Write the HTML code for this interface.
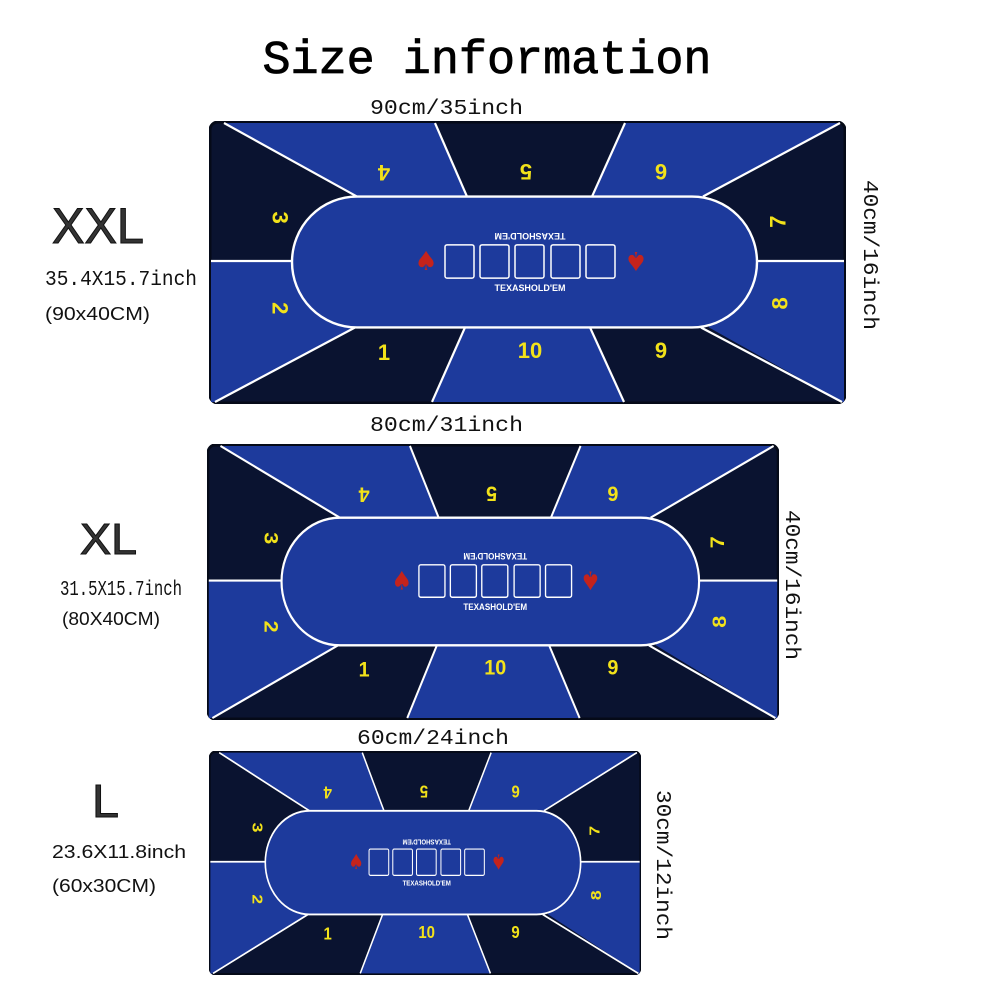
<!DOCTYPE html>
<html><head><meta charset="utf-8"><style>
html,body{margin:0;padding:0;background:#fff;width:1000px;height:1000px;overflow:hidden}
svg{display:block}
.num{font-family:"Liberation Sans",sans-serif;font-weight:bold;font-size:22px;fill:#f2e21a;text-anchor:middle;dominant-baseline:central}
.th{font-family:"Liberation Sans",sans-serif;font-weight:bold;font-size:9px;fill:#fff;text-anchor:middle}
.lab{font-family:"Liberation Mono",monospace;font-size:21px;fill:#111}
.sz{font-family:"Liberation Sans",sans-serif;fill:#333;stroke:#111;stroke-width:1}
.dim{font-family:"Liberation Sans",sans-serif;font-size:18px;fill:#111}
</style></head><body>
<svg width="1000" height="1000" viewBox="0 0 1000 1000" xmlns="http://www.w3.org/2000/svg">
<defs>
<symbol id="mat" viewBox="0 0 637 281" preserveAspectRatio="none">
  <rect x="1" y="1" width="635" height="279" rx="8" fill="#0a1330" stroke="#050a18" stroke-width="3"/>
  <g fill="#1d3a9c">
    <polygon points="15,2 226,2 258,75 148,75"/>
    <polygon points="416,2 631,2 494,75 383,75"/>
    <polygon points="635,139 500,139 500,205 633,279 635,279"/>
    <polygon points="2,139 140,139 146,205 6,279 2,279"/>
    <polygon points="256,205 381,205 415,279 223,279"/>
  </g>
  <g stroke="#fff" stroke-width="2.2" fill="none">
    <line x1="15" y1="2" x2="148" y2="75"/>
    <line x1="226" y1="2" x2="258" y2="75"/>
    <line x1="416" y1="2" x2="383" y2="75"/>
    <line x1="631" y1="2" x2="494" y2="75"/>
    <line x1="6" y1="279" x2="146" y2="205"/>
    <line x1="223" y1="279" x2="256" y2="205"/>
    <line x1="415" y1="279" x2="381" y2="205"/>
    <line x1="633" y1="279" x2="492" y2="205"/>
    <line x1="2" y1="139" x2="83" y2="139"/>
    <line x1="548" y1="139" x2="635" y2="139"/>
  </g>
  <rect x="83" y="75" width="465" height="130" rx="65" fill="#1d3a9c" stroke="#fff" stroke-width="2.4"/>
  <g fill="none" stroke="#fff" stroke-width="1.5">
    <rect x="236" y="123" width="29" height="33" rx="2"/>
    <rect x="271" y="123" width="29" height="33" rx="2"/>
    <rect x="306" y="123" width="29" height="33" rx="2"/>
    <rect x="342" y="123" width="29" height="33" rx="2"/>
    <rect x="377" y="123" width="29" height="33" rx="2"/>
  </g>
  <text class="th" x="321" y="169">TEXASHOLD'EM</text>
  <text class="th" x="321" y="169" transform="rotate(180 321 140)">TEXASHOLD'EM</text>
  <text x="217" y="148" font-size="26" fill="#c4231c" text-anchor="middle" font-family="DejaVu Sans,sans-serif">♠</text>
  <text x="427" y="148" font-size="26" fill="#c4231c" text-anchor="middle" font-family="DejaVu Sans,sans-serif" transform="rotate(180 427 139)">♠</text>
  <text class="num" x="71" y="96" transform="rotate(90 71 96)">3</text>
  <text class="num" x="71" y="186" transform="rotate(90 71 186)">2</text>
  <text class="num" x="175" y="51" transform="rotate(180 175 51)">4</text>
  <text class="num" x="317" y="50" transform="rotate(180 317 50)">5</text>
  <text class="num" x="452" y="50" transform="rotate(180 452 50)">6</text>
  <text class="num" x="569" y="100" transform="rotate(-90 569 100)">7</text>
  <text class="num" x="571" y="181" transform="rotate(-90 571 181)">8</text>
  <text class="num" x="175" y="230">1</text>
  <text class="num" x="321" y="228">10</text>
  <text class="num" x="452" y="228">9</text>
</symbol>
</defs>

<text x="487" y="73" text-anchor="middle" font-family="Liberation Mono,monospace" font-size="47" fill="#000" textLength="449" lengthAdjust="spacingAndGlyphs" stroke="#000" stroke-width="0.8">Size information</text>

<text class="lab" x="370" y="114" textLength="153" lengthAdjust="spacingAndGlyphs">90cm/35inch</text>
<use href="#mat" x="209" y="121" width="637" height="283"/>
<text class="lab" x="0" y="0" transform="translate(864,180) rotate(90)" textLength="150" lengthAdjust="spacingAndGlyphs">40cm/16inch</text>
<text class="sz" x="52" y="243" font-size="50" textLength="92" lengthAdjust="spacingAndGlyphs">XXL</text>
<text class="lab" x="45" y="285" font-size="19" textLength="152" lengthAdjust="spacingAndGlyphs">35.4X15.7inch</text>
<text class="dim" x="45" y="320" textLength="105" lengthAdjust="spacingAndGlyphs">(90x40CM)</text>

<text class="lab" x="370" y="431" textLength="153" lengthAdjust="spacingAndGlyphs">80cm/31inch</text>
<use href="#mat" x="207" y="444" width="572" height="276"/>
<text class="lab" x="0" y="0" transform="translate(786,510) rotate(90)" textLength="150" lengthAdjust="spacingAndGlyphs">40cm/16inch</text>
<text class="sz" x="80" y="554" font-size="44" textLength="57" lengthAdjust="spacingAndGlyphs">XL</text>
<text class="lab" x="60" y="595" font-size="18" textLength="122" lengthAdjust="spacingAndGlyphs">31.5X15.7inch</text>
<text class="dim" x="62" y="625" textLength="98" lengthAdjust="spacingAndGlyphs">(80X40CM)</text>

<text class="lab" x="357" y="744" textLength="152" lengthAdjust="spacingAndGlyphs">60cm/24inch</text>
<use href="#mat" x="209" y="751" width="432" height="224"/>
<text class="lab" x="0" y="0" transform="translate(657,790) rotate(90)" textLength="150" lengthAdjust="spacingAndGlyphs">30cm/12inch</text>
<text class="sz" x="92" y="817" font-size="46" textLength="27" lengthAdjust="spacingAndGlyphs">L</text>
<text class="dim" x="52" y="858" textLength="134" lengthAdjust="spacingAndGlyphs">23.6X11.8inch</text>
<text class="dim" x="52" y="892" textLength="104" lengthAdjust="spacingAndGlyphs">(60x30CM)</text>
</svg>
</body></html>
